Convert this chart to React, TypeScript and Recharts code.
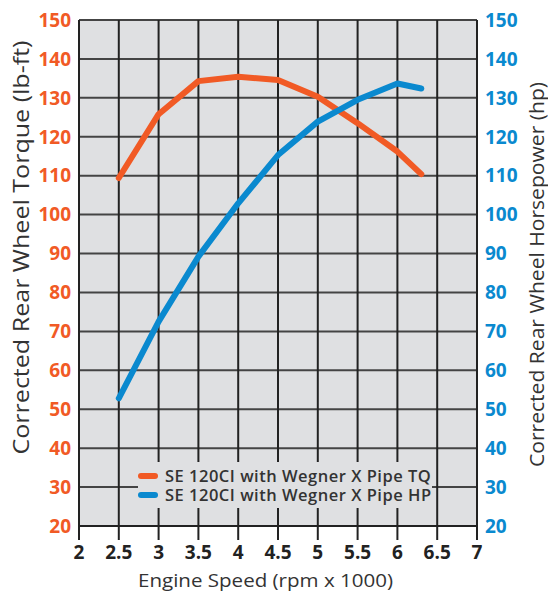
import React from 'react';
import { LineChart, Line, XAxis, YAxis, CartesianGrid } from 'recharts';

const rpm = [2.5, 3, 3.5, 4, 4.5, 5, 5.5, 6, 6.3];
const torque = [109.4, 125.8, 134.3, 135.4, 134.6, 130.3, 123.5, 116.2, 110.4];
const horsepower = [52.8, 72.5, 89.2, 102.9, 115.3, 123.9, 129.5, 133.7, 132.4];

const xTicks = [2, 2.5, 3, 3.5, 4, 4.5, 5, 5.5, 6, 6.5, 7];
const yTicks = [20, 30, 40, 50, 60, 70, 80, 90, 100, 110, 120, 130, 140, 150];

const seriesNames = ['SE 120CI with Wegner X Pipe TQ', 'SE 120CI with Wegner X Pipe HP'];

const ORANGE = '#F15A25';
const BLUE = '#0A89CF';
const BG = '#DFE0E2';
const FONT = '"Open Sans", Roboto, sans-serif';

const data = rpm.map((r, i) => ({ rpm: r, tq: torque[i], hp: horsepower[i] }));

export default function App() {
  return (
    <div style={{ position: 'relative', width: 548, height: 593, fontFamily: FONT }}>
      <style>{`body { margin: 0; }`}</style>
      <LineChart width={548} height={593} data={data} margin={{ top: 20, right: 0, left: 0, bottom: 0 }}>
        <CartesianGrid fill={BG} fillOpacity={1} vertical={false} stroke="#444" strokeWidth={2} />
        <CartesianGrid horizontal={false} stroke="#222" strokeWidth={2} />
        <XAxis
          dataKey="rpm"
          type="number"
          domain={[2, 7]}
          ticks={xTicks}
          interval={0}
          height={67}
          axisLine={{ stroke: '#222', strokeWidth: 2 }}
          tickLine={{ stroke: '#222', strokeWidth: 2 }}
          tickSize={14}
          tickMargin={6}
          tick={{ fill: '#222', fontSize: 19, fontWeight: 700, fontFamily: FONT }}
          label={{
            content: () => (
              <text
                x={265.5}
                y={587}
                textAnchor="middle"
                fill="#333"
                fontSize={19}
                fontFamily={FONT}
                textLength={255}
                lengthAdjust="spacingAndGlyphs"
              >
                Engine Speed (rpm x 1000)
              </text>
            ),
          }}
        />
        <YAxis
          domain={[20, 150]}
          ticks={yTicks}
          interval={0}
          width={79}
          axisLine={{ stroke: '#222', strokeWidth: 2 }}
          tickLine={false}
          tick={{ fill: ORANGE, fontSize: 19, fontWeight: 700, fontFamily: FONT }}
          label={{
            content: () => (
              <text
                x={20.5}
                y={247.5}
                transform="rotate(-90 20.5 247.5)"
                textAnchor="middle"
                dominantBaseline="central"
                fill="#333"
                fontSize={21}
                fontFamily={FONT}
                textLength={414}
                lengthAdjust="spacingAndGlyphs"
              >
                Corrected Rear Wheel Torque (lb-ft)
              </text>
            ),
          }}
        />
        <YAxis
          yAxisId="right"
          orientation="right"
          domain={[20, 150]}
          ticks={yTicks}
          interval={0}
          width={71}
          axisLine={{ stroke: '#222', strokeWidth: 2 }}
          tickLine={false}
          tick={{ fill: BLUE, fontSize: 19, fontWeight: 700, fontFamily: FONT }}
          label={{
            content: () => (
              <text
                x={536}
                y={274.5}
                transform="rotate(-90 536 274.5)"
                textAnchor="middle"
                dominantBaseline="central"
                fill="#333"
                fontSize={20}
                fontFamily={FONT}
                textLength={385}
                lengthAdjust="spacingAndGlyphs"
              >
                Corrected Rear Wheel Horsepower (hp)
              </text>
            ),
          }}
        />
        <Line
          dataKey="tq"
          type="linear"
          stroke={ORANGE}
          strokeWidth={6}
          strokeLinecap="round"
          strokeLinejoin="round"
          dot={false}
          isAnimationActive={false}
        />
        <Line
          yAxisId="right"
          dataKey="hp"
          type="linear"
          stroke={BLUE}
          strokeWidth={6}
          strokeLinecap="round"
          strokeLinejoin="round"
          dot={false}
          isAnimationActive={false}
        />
      </LineChart>
      <div
        style={{
          position: 'absolute',
          left: 138,
          top: 462,
          width: 294,
          height: 46,
          background: BG,
          display: 'flex',
          flexDirection: 'column',
          justifyContent: 'center',
        }}
      >
        {seriesNames.map((name, i) => (
          <div key={name} style={{ display: 'flex', alignItems: 'center', height: 19, lineHeight: '19px' }}>
            <span
              style={{
                display: 'inline-block',
                width: 20,
                height: 6,
                borderRadius: 3,
                background: i === 0 ? ORANGE : BLUE,
                marginRight: 7,
                flex: 'none',
              }}
            />
            <span
              style={{ fontSize: 16.5, fontWeight: 600, color: '#333', whiteSpace: 'nowrap', letterSpacing: 0.5 }}
            >
              {name}
            </span>
          </div>
        ))}
      </div>
    </div>
  );
}
